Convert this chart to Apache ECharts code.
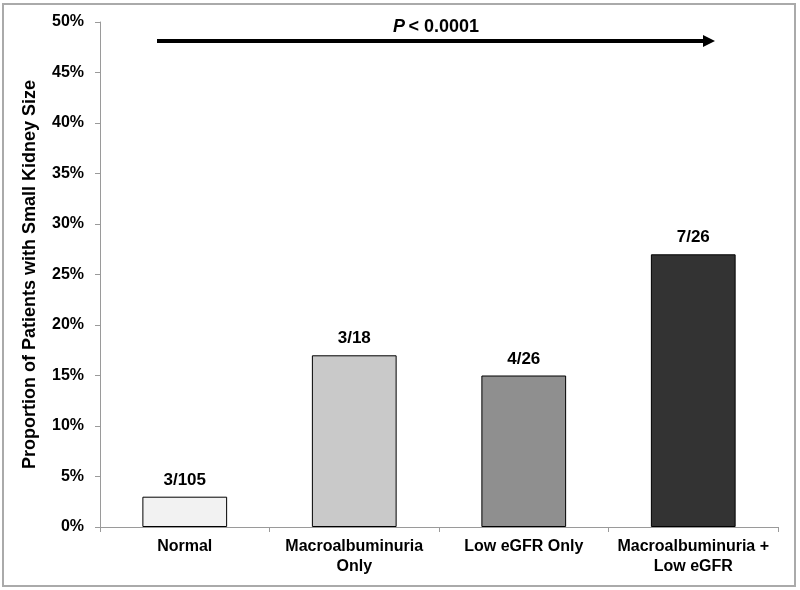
<!DOCTYPE html>
<html>
<head>
<meta charset="utf-8">
<script src="https://cdn.jsdelivr.net/npm/echarts@6/dist/echarts.min.js"></script>
<style>html,body{margin:0;padding:0;background:#fff;}#c{width:800px;height:590px;}</style>
</head>
<body>
<div id="c"></div>
<script>
const categories = ['Normal', 'Macroalbuminuria\nOnly', 'Low eGFR Only', 'Macroalbuminuria +\nLow eGFR'];
const values = [3, 17, 15, 27];
const labels = ['3/105', '3/18', '4/26', '7/26'];
const barColors = ['#f2f2f2', '#c9c9c9', '#8f8f8f', '#333333'];
const yTicks = { min: 0, max: 50, interval: 5 };
const yTitle = 'Proportion of Patients with Small Kidney Size';
const pText = 'P';
const pRest = '< 0.0001';

const FONT = '"Liberation Sans", Arial, Helvetica, sans-serif';
const chart = echarts.init(document.getElementById('c'), null, { renderer: 'canvas' });
chart.setOption({
  animation: false,
  backgroundColor: '#fff',
  grid: { left: 100, right: 22, top: 22, bottom: 63 },
  xAxis: {
    type: 'category',
    data: categories,
    axisLine: { lineStyle: { color: '#9a9a9a', width: 1 } },
    axisTick: { show: true, interval: 0, length: 5, lineStyle: { color: '#9a9a9a' } },
    axisLabel: { interval: 0, color: '#000', fontFamily: FONT, fontWeight: 'bold', fontSize: 16, lineHeight: 20, margin: 10 }
  },
  yAxis: {
    type: 'value',
    min: yTicks.min, max: yTicks.max, interval: yTicks.interval,
    name: yTitle,
    nameLocation: 'middle',
    nameGap: 61,
    nameTextStyle: { color: '#000', fontFamily: FONT, fontWeight: 'bold', fontSize: 18 },
    axisLine: { show: true, lineStyle: { color: '#9a9a9a', width: 1 } },
    axisTick: { show: true, length: 5, lineStyle: { color: '#9a9a9a' } },
    splitLine: { show: false },
    axisLabel: { formatter: '{value}%', color: '#000', fontFamily: FONT, fontWeight: 'bold', fontSize: 16, margin: 16 }
  },
  series: [{
    type: 'bar',
    barWidth: '50%',
    data: values.map((v, i) => ({
      value: v,
      itemStyle: { color: barColors[i], borderColor: '#000', borderWidth: 1 },
      label: { formatter: labels[i] }
    })),
    label: { show: true, position: 'top', distance: 8, color: '#000', fontFamily: FONT, fontWeight: 'bold', fontSize: 17 }
  }],
  graphic: [
    { type: 'rect', shape: { x: 3, y: 4, width: 792, height: 582 }, style: { fill: 'none', stroke: '#aaaaaa', lineWidth: 2 }, silent: true },
    { type: 'line', shape: { x1: 157, y1: 41, x2: 704, y2: 41 }, style: { stroke: '#000', lineWidth: 4 } },
    { type: 'polygon', shape: { points: [[703, 35], [715, 41], [703, 47]] }, style: { fill: '#000' } },
    { type: 'text', x: 436, y: 27, style: {
        text: '{i|' + pText + '} {n|' + pRest + '}',
        align: 'center', verticalAlign: 'middle',
        rich: {
          i: { fontFamily: FONT, fontWeight: 'bold', fontStyle: 'italic', fontSize: 18, fill: '#000' },
          n: { fontFamily: FONT, fontWeight: 'bold', fontSize: 18, fill: '#000' }
        }
      } }
  ]
});
</script>
</body>
</html>
